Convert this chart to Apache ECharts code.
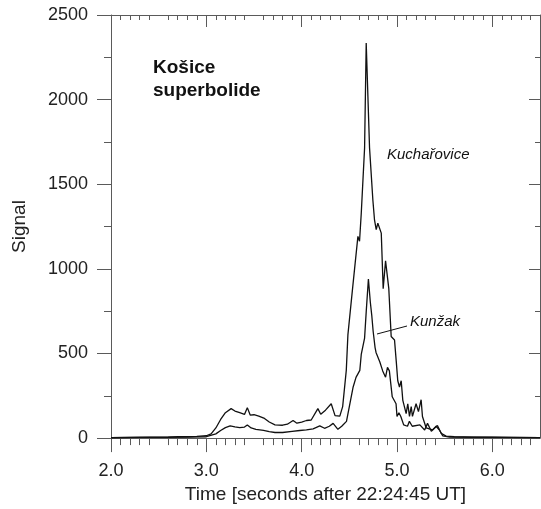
<!DOCTYPE html>
<html>
<head>
<meta charset="utf-8">
<script src="https://cdn.jsdelivr.net/npm/echarts@6/dist/echarts.min.js"></script>
<style>
html,body{margin:0;padding:0;background:#fff;}
#chart{width:541px;height:509px;}
</style>
</head>
<body>
<div id="chart"></div>
<script>
// ---- data ----
var kuchTime = [2.0,2.2,2.4,2.6,2.7,2.8,2.9,3.0,3.05,3.1,3.15,3.2,3.26,3.3,3.35,3.4,3.43,3.46,3.5,3.55,3.61,3.66,3.72,3.8,3.85,3.91,3.95,4.0,4.05,4.1,4.17,4.2,4.25,4.31,4.35,4.4,4.43,4.468,4.485,4.51,4.537,4.555,4.59,4.607,4.625,4.66,4.677,4.712,4.747,4.764,4.782,4.799,4.817,4.835,4.855,4.88,4.893,4.914,4.939,4.974,4.992,5.008,5.026,5.044,5.061,5.096,5.113,5.131,5.149,5.162,5.2,5.225,5.253,5.267,5.306,5.372,5.424,5.463,5.515,5.6,5.8,6.0,6.2,6.5];
var kuchVal  = [3,4,5,6,9,8,10,14,25,60,110,150,174,160,150,140,180,136,138,130,116,95,78,76,82,104,88,95,104,107,174,141,165,203,133,130,186,400,610,750,901,1000,1192,1163,1327,1715,2335,1715,1405,1290,1232,1270,1280,1211,883,1047,1047,883,600,580,455,339,302,339,223,145,203,128,186,128,203,157,227,128,60,48,75,29,12,8,6,5,4,3];

var kunzTime = [2.0,2.3,2.6,2.8,3.0,3.1,3.15,3.2,3.25,3.3,3.35,3.4,3.43,3.47,3.52,3.6,3.66,3.72,3.8,3.9,3.98,4.05,4.12,4.19,4.24,4.29,4.33,4.38,4.42,4.47,4.5,4.54,4.57,4.61,4.625,4.66,4.677,4.7,4.72,4.735,4.75,4.77,4.78,4.8,4.82,4.85,4.88,4.9,4.92,4.95,4.99,5.0,5.02,5.04,5.07,5.11,5.13,5.16,5.24,5.29,5.32,5.36,5.41,5.445,5.48,5.55,5.8,6.1,6.5];
var kunzVal  = [2,4,5,6,8,25,45,62,72,66,62,65,78,60,52,46,38,33,33,40,45,48,55,72,58,70,87,52,70,99,186,302,359,400,494,591,746,940,804,727,630,535,506,513,450,397,360,418,397,244,203,128,150,128,78,70,99,70,78,48,87,40,70,48,13,6,5,4,3];

var xMajorTicks = [2,3,4,5,6];
var yTicks = [0,500,1000,1500,2000,2500];
var seriesNames = ['Kuchařovice','Kunžak'];

function pairs(t, v){ return t.map(function(x,i){ return [x, v[i]]; }); }

var FONT = '"Liberation Sans", Arial, sans-serif';
var AX = '#5a5a5a';
var chart = echarts.init(document.getElementById('chart'), null, {renderer:'canvas'});

function xAxisCfg(pos, inside, majLen, minLen, showLabel){
  return {
    type:'value', position:pos, min:2, max:6.5, interval:0.5,
    axisLine:{show:true, onZero:false, lineStyle:{color:AX, width:1}},
    axisTick:{show:true, inside:inside, length:majLen, customValues:xMajorTicks, lineStyle:{color:AX, width:1}},
    minorTick:{show:true, splitNumber:5, length:minLen, lineStyle:{color:AX, width:1}},
    splitLine:{show:false},
    axisLabel:{show:showLabel, customValues:xMajorTicks, margin:24, fontSize:18, fontFamily:FONT, color:'#222',
      formatter:function(v){ return v.toFixed(1); }},
    name: showLabel ? 'Time [seconds after 22:24:45 UT]' : '',
    nameLocation:'middle', nameGap:42,
    nameTextStyle:{fontSize:19, fontFamily:FONT, color:'#222'}
  };
}
function yAxisCfg(pos, inside, majLen, minLen, showLabel){
  return {
    type:'value', position:pos, min:0, max:2500, interval:500,
    axisLine:{show:true, onZero:false, lineStyle:{color:AX, width:1}},
    axisTick:{show:true, inside:inside, length:majLen, lineStyle:{color:AX, width:1}},
    minorTick:{show:true, splitNumber:2, length:minLen, lineStyle:{color:AX, width:1}},
    splitLine:{show:false},
    axisLabel:{show:showLabel, customValues:yTicks, margin:23, fontSize:18, fontFamily:FONT, color:'#222',
      formatter:function(v){ return String(v); }},
    name: showLabel ? 'Signal' : '',
    nameLocation:'middle', nameGap:82, nameRotate:90,
    nameTextStyle:{fontSize:19, fontFamily:FONT, color:'#222'}
  };
}

chart.setOption({
  animation:false,
  backgroundColor:'#fff',
  grid:{left:111, right:1, top:15, bottom:64, containLabel:false},
  xAxis:[ xAxisCfg('bottom', false, 14, 7, true), xAxisCfg('top', true, 12, 5, false) ],
  yAxis:[ yAxisCfg('left', false, 14, 7, true), yAxisCfg('right', true, 11, 5, false) ],
  series:[
    {name:seriesNames[0], type:'line', xAxisIndex:0, yAxisIndex:0, data:pairs(kuchTime,kuchVal),
     showSymbol:false, symbol:'none', lineStyle:{color:'#111', width:1.3}, z:3},
    {name:seriesNames[1], type:'line', xAxisIndex:0, yAxisIndex:0, data:pairs(kunzTime,kunzVal),
     showSymbol:false, symbol:'none', lineStyle:{color:'#111', width:1.3}, z:3}
  ],
  graphic:[
    {type:'text', left:153, top:56, style:{text:'Košice\nsuperbolide', font:'bold 19px '+FONT, fill:'#111', lineHeight:23}},
    {type:'text', left:387, top:147, style:{text:'Kuchařovice', font:'italic 15px '+FONT, fill:'#111'}},
    {type:'text', left:410, top:314, style:{text:'Kunžak', font:'italic 15px '+FONT, fill:'#111'}},
    {type:'line', shape:{x1:377, y1:334, x2:407, y2:326}, style:{stroke:'#111', lineWidth:1}}
  ]
});
</script>
</body>
</html>
